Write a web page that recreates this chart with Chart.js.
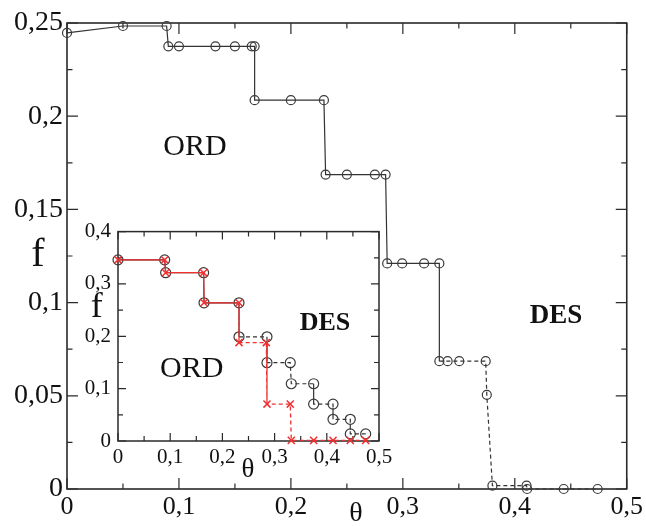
<!DOCTYPE html>
<html><head><meta charset="utf-8">
<script src="https://cdn.jsdelivr.net/npm/chart.js@4.4.0/dist/chart.umd.min.js"></script>
<style>
html,body{margin:0;padding:0;background:#fff;}
#wrap{position:relative;width:646px;height:526px;overflow:hidden;}
#main{position:absolute;left:0;top:0;}
#inset{position:absolute;left:75px;top:212px;}
</style></head><body>
<div id="wrap">
<canvas id="main" width="646" height="526"></canvas>
<canvas id="inset" width="325" height="280"></canvas>
</div>
<script>
// ---- main panel data ----
const mainTheta = [0, 0.050, 0.089, 0.0905, 0.100, 0.1326, 0.150, 0.165, 0.1676, 0.1676, 0.200, 0.2295, 0.231, 0.250, 0.275, 0.2846, 0.286, 0.2994, 0.319, 0.3326, 0.3326, 0.340, 0.3504, 0.374, 0.375, 0.380, 0.4105, 0.411, 0.4437, 0.474];
const mainF = [0.2447, 0.2484, 0.2484, 0.2375, 0.2375, 0.2375, 0.2375, 0.2375, 0.2375, 0.2086, 0.2086, 0.2086, 0.1687, 0.1687, 0.1687, 0.1687, 0.121, 0.121, 0.121, 0.121, 0.0686, 0.0686, 0.0686, 0.0686, 0.0505, 0.0018, 0.0018, 0, 0, 0];
const mainDashFrom = 20;
const mainXTicks = [0, 0.1, 0.2, 0.3, 0.4, 0.5];
const mainYTicks = [0, 0.05, 0.1, 0.15, 0.2, 0.25];

// ---- inset data ----
const insetThetaCircle = [0, 0.0894, 0.0913, 0.164, 0.1648, 0.2318, 0.2318, 0.2854, 0.2854, 0.330, 0.332, 0.3748, 0.3748, 0.4119, 0.4119, 0.445, 0.445, 0.4745];
const insetFCircle = [0.346, 0.346, 0.3215, 0.3215, 0.264, 0.264, 0.199, 0.199, 0.1496, 0.1496, 0.1094, 0.1094, 0.0705, 0.0705, 0.0414, 0.0414, 0.0136, 0.0136];
const insetThetaCross = [0, 0.0894, 0.0913, 0.164, 0.1648, 0.2318, 0.2318, 0.2842, 0.2854, 0.330, 0.332, 0.3748, 0.4119, 0.445, 0.4745];
const insetFCross = [0.346, 0.346, 0.3215, 0.3215, 0.264, 0.264, 0.188, 0.188, 0.0705, 0.0705, 0.0012, 0.0012, 0.0012, 0.0012, 0.0012];
const insetCircleDashFrom = 6;
const insetCrossDashFrom = 5;
const insetXTicks = [0, 0.1, 0.2, 0.3, 0.4, 0.5];
const insetYTicks = [0, 0.1, 0.2, 0.3, 0.4];

const SERIF = "'Liberation Serif', 'Times New Roman', serif";
const fmt = v => String(+(+v).toFixed(3)).replace('.', ',');
const pts = (xs, ys) => xs.map((x, i) => ({x: x, y: ys[i]}));
const mids = arr => arr.slice(1).map((v, i) => (v + arr[i]) / 2);

function framePlugin(id, xt, yt, majorLen, minorLen, lw) {
  return {
    id: id,
    beforeDatasetsDraw(chart) {
      const ctx = chart.ctx, a = chart.chartArea;
      const xs = chart.scales.x, ys = chart.scales.y;
      ctx.save();
      ctx.strokeStyle = '#2a2a2a';
      ctx.lineWidth = lw;
      ctx.strokeRect(a.left, a.top, a.right - a.left, a.bottom - a.top);
      ctx.lineWidth = 1.2;
      const drawX = (v, len) => {
        const px = xs.getPixelForValue(v);
        ctx.beginPath();
        ctx.moveTo(px, a.bottom); ctx.lineTo(px, a.bottom - len);
        ctx.moveTo(px, a.top); ctx.lineTo(px, a.top + len);
        ctx.stroke();
      };
      const drawY = (v, len) => {
        const py = ys.getPixelForValue(v);
        ctx.beginPath();
        ctx.moveTo(a.left, py); ctx.lineTo(a.left + len, py);
        ctx.moveTo(a.right, py); ctx.lineTo(a.right - len, py);
        ctx.stroke();
      };
      xt.forEach(v => drawX(v, majorLen));
      mids(xt).forEach(v => drawX(v, minorLen));
      yt.forEach(v => drawY(v, majorLen));
      mids(yt).forEach(v => drawY(v, minorLen));
      ctx.restore();
    }
  };
}

function textPlugin(id, items) {
  return {
    id: id,
    afterDraw(chart) {
      const ctx = chart.ctx;
      ctx.save();
      ctx.fillStyle = '#111';
      ctx.textAlign = 'center';
      ctx.textBaseline = 'alphabetic';
      items.forEach(t => {
        ctx.font = t.font;
        ctx.fillText(t.text, t.x, t.y);
      });
      ctx.restore();
    }
  };
}

function axisCfg(min, max, ticks, fontSize, pad, fitSize, isX) {
  return {
    type: 'linear',
    min: min, max: max,
    afterBuildTicks: ax => { ax.ticks = ticks.map(v => ({value: v})); },
    afterFit: ax => { if (isX) ax.height = fitSize; else ax.width = fitSize; },
    grid: {display: false, drawTicks: false},
    border: {display: false},
    ticks: {
      callback: v => fmt(v),
      font: {family: SERIF, size: fontSize},
      color: '#111',
      padding: pad,
      maxRotation: 0,
      autoSkip: false
    }
  };
}

// ---- main chart ----
new Chart(document.getElementById('main'), {
  type: 'scatter',
  data: {
    datasets: [{
      data: pts(mainTheta, mainF),
      showLine: true,
      borderColor: '#333',
      borderWidth: 1.2,
      pointStyle: 'circle',
      pointRadius: 4.5,
      pointBorderColor: '#3a3a3a',
      pointBorderWidth: 1.2,
      pointBackgroundColor: 'rgba(0,0,0,0)',
      clip: false,
      segment: {borderDash: c => c.p0DataIndex >= mainDashFrom ? [4, 3] : undefined}
    }]
  },
  options: {
    responsive: false,
    animation: false,
    layout: {padding: {top: 23, right: 16, left: 0, bottom: 0}},
    plugins: {legend: {display: false}, tooltip: {enabled: false}},
    scales: {
      x: axisCfg(0, 0.5, mainXTicks, 26, 3, 37, true),
      y: axisCfg(0, 0.25, mainYTicks, 28, 4, 67, false)
    }
  },
  plugins: [
    framePlugin('mframe', mainXTicks, mainYTicks, 11, 5.5, 1.6),
    textPlugin('mtext', [
      {text: 'ORD', x: 195, y: 155, font: '30px ' + SERIF},
      {text: 'DES', x: 556, y: 323, font: 'bold 27px ' + SERIF},
      {text: 'f', x: 38, y: 266, font: '40px ' + SERIF},
      {text: 'θ', x: 356, y: 521, font: '28px ' + SERIF}
    ])
  ]
});

// ---- inset chart ----
const OX = 75, OY = 212;
new Chart(document.getElementById('inset'), {
  type: 'scatter',
  data: {
    datasets: [{
      data: pts(insetThetaCross, insetFCross),
      showLine: true,
      borderColor: '#f03030',
      borderWidth: 1.3,
      pointStyle: 'crossRot',
      pointRadius: 5,
      pointBorderColor: '#f03030',
      pointBorderWidth: 1.5,
      clip: false,
      segment: {borderDash: c => c.p0DataIndex >= insetCrossDashFrom ? [4, 3] : undefined}
    }, {
      data: pts(insetThetaCircle, insetFCircle),
      showLine: true,
      borderColor: '#333',
      borderWidth: 1.2,
      pointStyle: 'circle',
      pointRadius: 5,
      pointBorderColor: '#3a3a3a',
      pointBorderWidth: 1.2,
      pointBackgroundColor: 'rgba(0,0,0,0)',
      clip: false,
      segment: {borderDash: c => c.p0DataIndex >= insetCircleDashFrom ? [4, 3] : undefined}
    }]
  },
  options: {
    responsive: false,
    animation: false,
    layout: {padding: {top: 13, right: 21, left: 0, bottom: 0}},
    plugins: {legend: {display: false}, tooltip: {enabled: false}},
    scales: {
      x: axisCfg(0, 0.5, insetXTicks, 21, 4, 51, true),
      y: axisCfg(0, 0.4, insetYTicks, 21, 7, 43, false)
    }
  },
  plugins: [
    framePlugin('iframe', insetXTicks, insetYTicks, 8, 5, 1.5),
    textPlugin('itext', [
      {text: 'ORD', x: 191.7 - OX, y: 376.7 - OY, font: '30px ' + SERIF},
      {text: 'DES', x: 325 - OX, y: 330 - OY, font: 'bold 26px ' + SERIF},
      {text: 'f', x: 96.7 - OX, y: 316.7 - OY, font: '36px ' + SERIF},
      {text: 'θ', x: 248 - OX, y: 477 - OY, font: '27px ' + SERIF}
    ])
  ]
});
</script>
</body></html>
